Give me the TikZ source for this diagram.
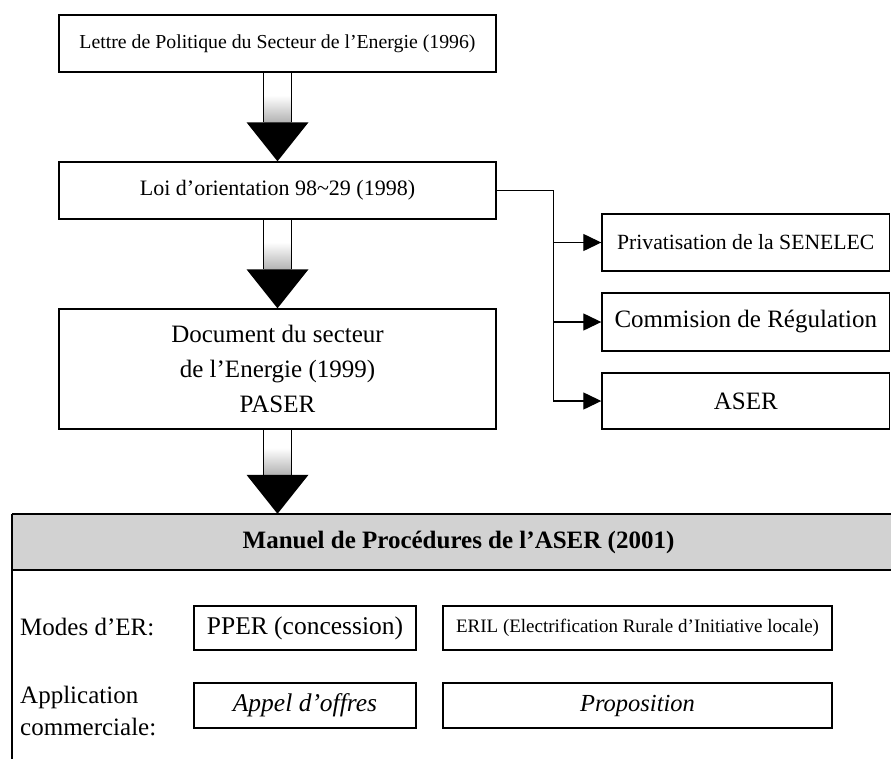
\documentclass[tikz,border=0pt]{standalone}
\usepackage{fontspec}
\setmainfont{Liberation Serif}
\usetikzlibrary{arrows.meta,calc}
\newcommand\fsz[2]{\fontsize{#1}{#2}\selectfont}
\tikzset{
  box/.style={draw, line width=1.4pt, rectangle, inner sep=0pt, align=center},
  conn/.style={line width=1.3pt, -{Triangle[length=18pt,width=17pt]}},
  plainline/.style={line width=1.3pt},
}
\newcommand\fatarrow[2]{%
  \coordinate (fs) at (#1.south);
  \coordinate (fe) at (#1.south |- #2.north);
  \fill[white] ($(fs)+(-14,0)$) rectangle ($(fe)+(14,-39)$);
  \shade[top color=white, bottom color=gray!60] ($(fe)+(-14,-66)$) rectangle ($(fe)+(14,-39)$);
  \draw[line width=1.4pt] ($(fs)+(-14,0)$) -- ($(fe)+(-14,-39)$)
                          ($(fs)+(14,0)$) -- ($(fe)+(14,-39)$);
  \fill[black] ($(fe)+(-31,-39)$) -- ($(fe)+(31,-39)$) -- (fe) -- cycle;
}
\begin{document}
\begin{tikzpicture}[x=1pt,y=-1pt]
\useasboundingbox (0,0) rectangle (891,758);
\clip (0,0) rectangle (891,758);

% main column
\node[box, minimum width=437, minimum height=57, font=\fsz{19.8}{23}] (lettre) at (277.5,43.5)
  {Lettre de Politique du Secteur de l’Energie (1996)};
\node[box, minimum width=437, minimum height=57, font=\fsz{22}{26}] (loi) at (277.5,190.5)
  {Loi d’orientation 98\textasciitilde29 (1998)};
\node[box, minimum width=437, minimum height=120, font=\fsz{25}{35}] (doc) at (277.5,369)
  {Document du secteur\\de l’Energie (1999)\\PASER};

% right column
\node[box, minimum width=287.5, minimum height=57, font=\fsz{21.7}{25}] (priv) at (745.75,242.5)
  {Privatisation de la SENELEC};
\node[box, minimum width=287.5, minimum height=58, font=\fsz{25}{28}] (comm) at (745.75,322)
  {Commision de Régulation};
\node[box, minimum width=287.5, minimum height=56, font=\fsz{25}{28}] (aser) at (745.75,401)
  {ASER};

% connectors to the right column
\coordinate (j) at ($(loi.east)+(57,0)$);
\draw[plainline] (loi.east) -- (j);
\draw[conn] (j) |- (aser.west);
\draw[conn] (j |- priv.west) -- (priv.west);
\draw[conn] (j |- comm.west) -- (comm.west);

% header of the manual
\node[fill=gray!35, minimum width=893, minimum height=56, inner sep=0pt,
      font=\bfseries\fsz{25}{30}] (hdr) at (458.5,542)
  {Manuel de Procédures de l’ASER (2001)};
\draw[line width=2.6pt] (hdr.north west) -- (hdr.north east);
\draw[line width=2pt] (hdr.south west) -- (hdr.south east);
\draw[line width=1.6pt] (hdr.north west) -- ++(0,260);

% fat arrows
\fatarrow{lettre}{loi}
\fatarrow{loi}{doc}
\fatarrow{doc}{hdr}

% content of the manual
\node[anchor=west, inner sep=0pt, font=\fsz{25}{28}] (modes) at (20,627) {Modes d’ER:};
\node[anchor=west, inner sep=0pt, align=left, font=\fsz{25}{32}] (appl) at (20,711)
  {Application\\commerciale:};
\node[box, minimum width=222, minimum height=44, font=\fsz{25.5}{28}] (pper) at (305,628)
  {PPER (concession)};
\node[box, minimum width=389, minimum height=44, font=\fsz{19}{23}] (eril) at (637.5,628)
  {ERIL (Electrification Rurale d’Initiative locale)};
\node[box, minimum width=222, minimum height=45, font=\itshape\fsz{25.5}{28}] (appel) at (305,705.5)
  {Appel d’offres};
\node[box, minimum width=389, minimum height=45, font=\itshape\fsz{24.5}{28}] (prop) at (637.5,705.5)
  {Proposition};
\end{tikzpicture}
\end{document}
